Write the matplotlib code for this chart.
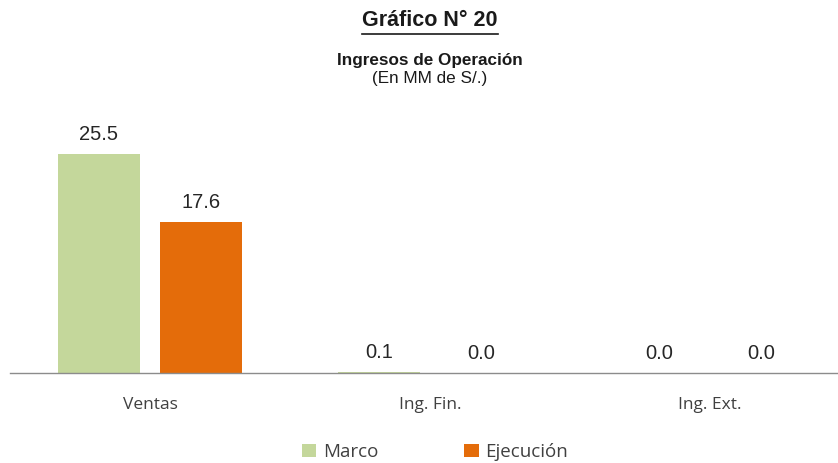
import matplotlib
matplotlib.use("Agg")
import matplotlib.pyplot as plt
import numpy as np

categories = ["Ventas", "Ing. Fin.", "Ing. Ext."]
marco = [25.5, 0.1, 0.0]
ejecucion = [17.6, 0.045, 0.0]
series_names = ["Marco", "Ejecución"]
colors = ["#c4d79b", "#e46c0a"]

fig = plt.figure(figsize=(8.38, 4.63), dpi=100)
W, H = 838, 463
ax = fig.add_axes([10 / W, 1 - 373 / H, 828 / W, 273 / H])

x = np.arange(len(categories))
bw = 0.293
off = 0.183
b1 = ax.bar(x - off, marco, bw, color=colors[0], label=series_names[0])
b2 = ax.bar(x + off, ejecucion, bw, color=colors[1], label=series_names[1])
for bars, vals in ((b1, marco), (b2, ejecucion)):
    for r, v in zip(bars, vals):
        ax.annotate(f"{v:.1f}", (r.get_x() + r.get_width() / 2, v),
                    xytext=(0, 7), textcoords="offset points", ha="center", va="bottom",
                    fontsize=14.5, family="Liberation Sans", color="#262626")

ax.set_xlim(-0.5, 2.457)
ax.set_ylim(0, 31.8)
for s in ("top", "left", "right"):
    ax.spines[s].set_visible(False)
ax.spines["bottom"].set_color("#8c8c8c")
ax.spines["bottom"].set_linewidth(1.0)
ax.set_yticks([])
ax.set_xticks(x)
ax.set_xticklabels(categories, fontsize=12.5, family="Open Sans", color="#404040")
ax.tick_params(axis="x", length=0, pad=17)

t = fig.text(430 / W, 1 - 21 / H, "Gráfico N° 20", ha="center", va="center",
             fontsize=15.5, fontweight="bold", family="Liberation Sans", color="#1a1a1a")
fig.text(430 / W, 1 - 61 / H, "Ingresos de Operación", ha="center", va="center",
         fontsize=12.3, fontweight="bold", family="Liberation Sans", color="#1a1a1a")
fig.text(430 / W, 1 - 79 / H, "(En MM de S/.)", ha="center", va="center",
         fontsize=12.3, family="Liberation Sans", color="#1a1a1a")

fig.legend(handles=[b1, b2], labels=series_names, loc="center", bbox_to_anchor=(435 / W, 1 - 452 / H),
           ncol=2, frameon=False, prop={"family": "Open Sans", "size": 13.5},
           handlelength=0.75, handleheight=0.75, columnspacing=4.6, handletextpad=0.35, labelcolor="#404040")

fig.canvas.draw()
bb = t.get_window_extent(renderer=fig.canvas.get_renderer())
yline = bb.y0 - 2
fig.add_artist(plt.Line2D([bb.x0 / W, bb.x1 / W], [yline / H, yline / H], color="#1a1a1a", lw=1.2,
                          transform=fig.transFigure))

fig.savefig("out.png", dpi=100)
